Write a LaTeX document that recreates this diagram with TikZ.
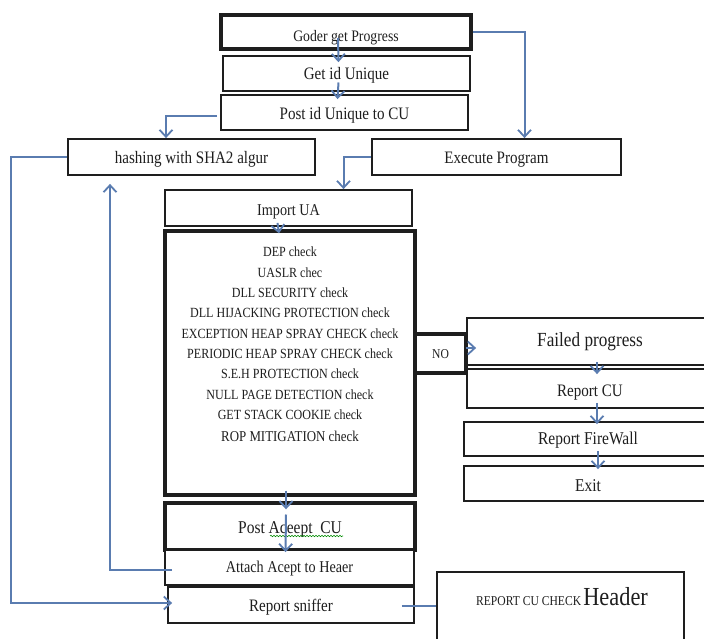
\documentclass[tikz,border=0pt]{standalone}
\usepackage{fontspec}
\setmainfont[FakeStretch=0.86]{Liberation Serif}
\usetikzlibrary{arrows.meta,calc,decorations.pathmorphing}
\definecolor{flow}{HTML}{5A7CB0}
\definecolor{ink}{HTML}{1E1E1E}
\tikzset{
  box/.style={draw=ink, line width=1.8pt, rectangle, inner sep=0pt, text=ink, fill=white,
              text height=13pt, text depth=0pt},
  heavy/.style={box, line width=3.4pt},
  conn/.style={draw=flow, line width=2pt, -{Straight Barb[length=7pt,width=13pt,line width=1.8pt]}},
  link/.style={draw=flow, line width=2pt},
  fs/.style={font=\fontsize{#1}{#1}\selectfont},
}
\begin{document}
\begin{tikzpicture}[x=1pt,y=-1pt]
\useasboundingbox (0,0) rectangle (704,639);
\clip (0,0) rectangle (704,639);

% main column
\node[heavy, fs=16, text height=18.6pt, minimum width=250, minimum height=34] (goder) at (346,32) {Goder get Progress};
\node[box, fs=17.5, text height=12.2pt, minimum width=247, minimum height=35] (getid) at (346.5,73.5) {Get id Unique};
\node[box, fs=17.5, text height=14.6pt, minimum width=247, minimum height=35] (postid) at (344.5,112.5) {Post id Unique to CU};
\node[box, fs=17.5, text height=12.6pt, minimum width=247, minimum height=36] (hash) at (191.5,157) {hashing with SHA2 algur};
\node[box, fs=17.5, text height=12.6pt, minimum width=249, minimum height=36] (exec) at (496.5,157) {Execute Program};
\node[box, fs=16.5, text height=14.9pt, minimum width=247, minimum height=36] (import) at (288.5,208) {Import UA};

% security checks
\node[heavy, minimum width=250, minimum height=264] (checks) at (290,363) {};
\node[inner sep=0pt, text=ink, align=center, anchor=north, font=\fontsize{14}{20.3}\selectfont] (checklist) at (290,247)
  {DEP check\\ UASLR chec\\ DLL SECURITY check\\ DLL HIJACKING PROTECTION check\\
   EXCEPTION HEAP SPRAY CHECK check\\ PERIODIC HEAP SPRAY CHECK check\\ S.E.H PROTECTION check\\
   NULL PAGE DETECTION check\\ GET STACK COOKIE check\\[1.5pt] {\fontsize{15}{20}\selectfont ROP MITIGATION check}};
\node[heavy, fs=13.5, text height=10pt, minimum width=51, minimum height=39] (no) at (440.5,353.5) {NO};

% failure branch
\node[box, fs=20, text height=10.2pt, minimum width=246, minimum height=47] (failed) at (590,341.5) {Failed progress};
\node[box, fs=17.5, text height=16.6pt, minimum width=246, minimum height=39] (rcu) at (590,388.5) {Report CU};
\node[box, fs=18, text height=11.8pt, minimum width=248, minimum height=34] (fw) at (588,439) {Report FireWall};
\node[box, fs=18, text height=15.8pt, minimum width=248, minimum height=35] (exit) at (588,483.5) {Exit};

% accepted branch
\node[heavy, fs=18, text height=13.8pt, minimum width=250, minimum height=47] (accept) at (290,526.5) {Post Aceept\ \ CU};
\node[box, fs=16.5, text height=10.9pt, minimum width=249, minimum height=35] (attach) at (289.5,567.5) {Attach Acept to Heaer};
\node[box, fs=17.5, text height=13.6pt, minimum width=246, minimum height=36] (sniffer) at (291,605) {Report sniffer};
\node[box, minimum width=247, minimum height=78] (header) at (560.5,611) {};
\node[inner sep=0pt, text=ink, anchor=base] (headertext) at (562,605)
  {{\fontsize{13.5}{15}\selectfont REPORT CU CHECK} {\fontsize{26}{28}\selectfont Header}};

% spell-check squiggle under the accept box text
\draw[green!55!black, line width=0.6pt, decorate,
      decoration={snake, amplitude=0.7pt, segment length=3pt}]
  ($(accept.center)+(-20,9.5)$) -- ($(accept.center)+(53,9.5)$);

% connectors
\draw[conn] (goder.east) -| ($(exec.north)+(28,0)$);
\draw[conn] ($(goder.center)+(-8,6)$) -- ($(getid.north)+(-8,7)$);
\draw[conn] ($(getid.center)+(-8,9)$) -- ($(postid.north)+(-7,5)$);
\draw[conn] ($(postid.west)+(-3,4)$) -| ($(hash.north)+(-25.5,0)$);
\draw[conn] (exec.west) -| ($(import.north)+(55,0)$);
\draw[conn] ($(import.south)+(-11,-4)$) -- ($(checks.north)+(-11,4)$);
\draw[conn] ($(checks.south)+(-4,-6)$) -- ($(accept.north)+(-4,8)$);
\draw[conn] ($(accept.center)+(-4,-12)$) -- ($(attach.north)+(-4,3)$);
\draw[conn] ($(attach.west)+(8,2)$) -| ($(hash.south)+(-81.5,8)$);
\draw[conn] (hash.west) -- ++(-56,0) |- ($(sniffer.west)+(5,-2)$);
\draw[link] ($(sniffer.east)+(-13,1)$) -- ($(header.west)+(0,-5)$);
\draw[conn] ($(no.east)+(-2,-5.5)$) -- ($(failed.west)+(10,6.5)$);
\draw[conn] ($(failed.south)+(7,-4)$) -- ($(rcu.north)+(7,6)$);
\draw[conn] ($(rcu.south)+(7,-6)$) -- ($(fw.north)+(9,3)$);
\draw[conn] ($(fw.south)+(10,-6)$) -- ($(exit.north)+(10,4)$);
\end{tikzpicture}
\end{document}
